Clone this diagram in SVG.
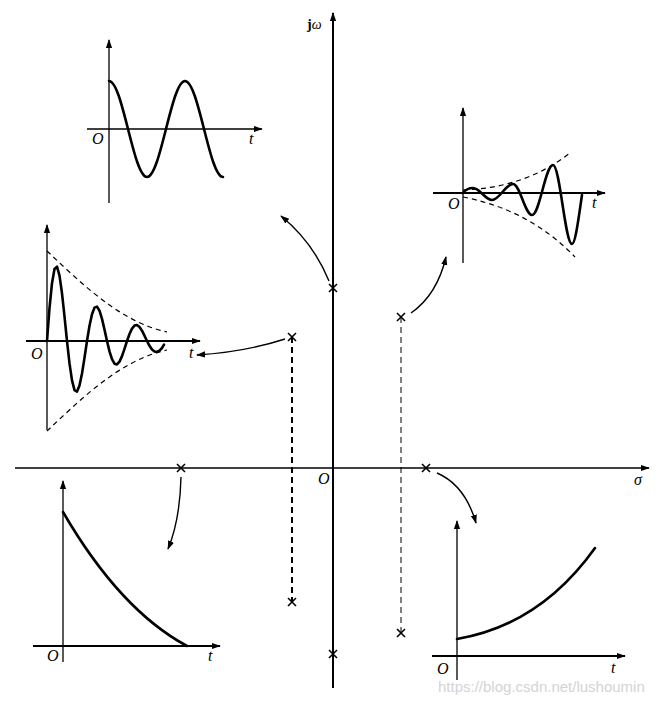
<svg xmlns="http://www.w3.org/2000/svg" width="665" height="704" viewBox="0 0 665 704">
<style>
.ax{stroke:#000;stroke-width:1.3;fill:none}
.axt{stroke:#000;stroke-width:2;fill:none}
.cv{stroke:#000;stroke-width:2.6;fill:none;stroke-linejoin:round;stroke-linecap:round}
.env{stroke:#000;stroke-width:1.2;fill:none;stroke-dasharray:5 4}
.arr{stroke:#000;stroke-width:1.4;fill:none}
.pole{stroke:#000;stroke-width:1.6;fill:none}
.lbl{font-family:"Liberation Serif",serif;font-style:italic;font-size:16px;fill:#000}
</style>
<defs>
<marker id="ah" viewBox="0 0 10 10" refX="9" refY="5" markerWidth="9" markerHeight="9" markerUnits="userSpaceOnUse" orient="auto">
<path d="M0,1.5 L10,5 L0,8.5 z" fill="#000"/>
</marker>
</defs>
<rect width="665" height="704" fill="#fff"/>

<g id="s-plane">
<line class="ax" x1="15" y1="468" x2="649" y2="468" marker-end="url(#ah)"/>
<line class="axt" x1="333" y1="688" x2="333" y2="13" marker-end="url(#ah)"/>
<text class="lbl" x="634" y="485">σ</text>
<text class="lbl" x="318" y="484">O</text>
<text x="307" y="29" font-family="Liberation Serif,serif" font-size="14" font-weight="bold">j<tspan font-style="italic" font-weight="normal">ω</tspan></text>
<line x1="292" y1="337" x2="292" y2="602" stroke="#000" stroke-width="2" stroke-dasharray="6 4"/>
<line x1="401" y1="317" x2="401" y2="633" stroke="#000" stroke-width="1" stroke-dasharray="6 4"/>
</g>

<g id="poles">
<path class="pole" d="M329,284 l8,8 M337,284 l-8,8" stroke-width="2"/>
<path class="pole" d="M329,650 l8,8 M337,650 l-8,8" stroke-width="2"/>
<path class="pole" d="M288,333 l8,8 M296,333 l-8,8"/>
<path class="pole" d="M288,598 l8,8 M296,598 l-8,8"/>
<path class="pole" d="M397,313 l8,8 M405,313 l-8,8"/>
<path class="pole" d="M397,629 l8,8 M405,629 l-8,8"/>
<path class="pole" d="M177,464 l8,8 M185,464 l-8,8"/>
<path class="pole" d="M422,464 l8,8 M430,464 l-8,8"/>
</g>

<g id="connectors">
<path class="arr" d="M329,281 Q313,242 281,216" marker-end="url(#ah)"/>
<path class="arr" d="M285,339 Q245,352 197,355" marker-end="url(#ah)"/>
<path class="arr" d="M411,313 Q437,295 446,257" marker-end="url(#ah)"/>
<path class="arr" d="M181,477 Q180,520 168,549" marker-end="url(#ah)"/>
<path class="arr" d="M437,473 Q465,485 476,523" marker-end="url(#ah)"/>
</g>

<g id="inset-undamped">
<line class="ax" x1="109" y1="203" x2="109" y2="40" marker-end="url(#ah)" stroke-width="1.8"/>
<line class="ax" x1="87" y1="129" x2="262" y2="129" marker-end="url(#ah)"/>
<path class="cv" d="M109,81 C122.7,81 133.3,177 147,177 C160.7,177 171.3,81 185,81 C198.7,81 209.3,177 223,177"/>
<text class="lbl" x="92" y="144">O</text>
<text class="lbl" x="249" y="144">t</text>
</g>

<g id="inset-growing">
<line class="ax" x1="463" y1="263" x2="463" y2="108" marker-end="url(#ah)"/>
<line class="axt" x1="433" y1="193" x2="605" y2="193" marker-end="url(#ah)"/>
<path class="env" d="M463,190 Q525,188 570,153"/>
<path class="env" d="M463,197 Q530,210 575,257"/>
<path class="cv" d="M463,193 C466,189 469,188 473,188 C479.9,188 485.1,200 492,200 C499.6,200 505.4,184 513,184 C519.9,184 525.1,215 532,215 C539.6,215 545.4,165 553,165 C559.9,165 565.1,244 572,244 C575.5,244 579,215 582,195"/>
<text class="lbl" x="448" y="209">O</text>
<text class="lbl" x="592" y="208">t</text>
</g>

<g id="inset-damped">
<line class="ax" x1="47" y1="430" x2="47" y2="225" marker-end="url(#ah)"/>
<line class="axt" x1="26" y1="341" x2="200" y2="341" marker-end="url(#ah)"/>
<path class="env" d="M47,251 C80,282 120,322 167,332"/>
<path class="env" d="M47,431 C80,400 120,360 167,350"/>
<polyline class="cv" points="47,341 49.5,308.1 52,283.2 54.5,269 57,266.7 59.5,275.6 62,293.3 64.5,316.4 67,341 69.5,363.4 72,380.4 74.5,390.1 77,391.6 79.5,385.5 82,373.5 84.5,357.8 87,341 89.5,325.8 92,314.2 94.5,307.6 97,306.6 99.5,310.7 102,318.9 104.5,329.6 107,341 109.5,351.4 112,359.2 114.5,363.7 117,364.4 119.5,361.6 122,356.1 124.5,348.8 127,341 129.5,334 132,328.6 134.5,325.6 137,325 139.5,327 142,330.7 144.5,335.7 147,341 149.5,345.8 152,349.5 154.5,351.5 157,351.9 159.5,350.6 162,348 164,344.6"/>
<text class="lbl" x="31" y="359">O</text>
<text class="lbl" x="189" y="358">t</text>
</g>

<g id="inset-decay">
<line class="ax" x1="63" y1="662" x2="63" y2="481" marker-end="url(#ah)"/>
<line class="axt" x1="33" y1="646" x2="220" y2="646" marker-end="url(#ah)"/>
<path class="cv" d="M63,512 Q120,610 187,646"/>
<text class="lbl" x="47" y="661">O</text>
<text class="lbl" x="208" y="661">t</text>
</g>

<g id="inset-exp-growth">
<line class="ax" x1="457" y1="680" x2="457" y2="521" marker-end="url(#ah)"/>
<line class="axt" x1="432" y1="656" x2="625" y2="656" marker-end="url(#ah)"/>
<path class="cv" d="M457,639 Q540,625 595,548"/>
<text class="lbl" x="437" y="674">O</text>
<text class="lbl" x="611" y="673">t</text>
</g>

<text x="438" y="692" font-family="Liberation Sans,Arial,sans-serif" font-size="15" fill="#d4d4d4">https://blog.csdn.net/lushoumin</text>
</svg>
